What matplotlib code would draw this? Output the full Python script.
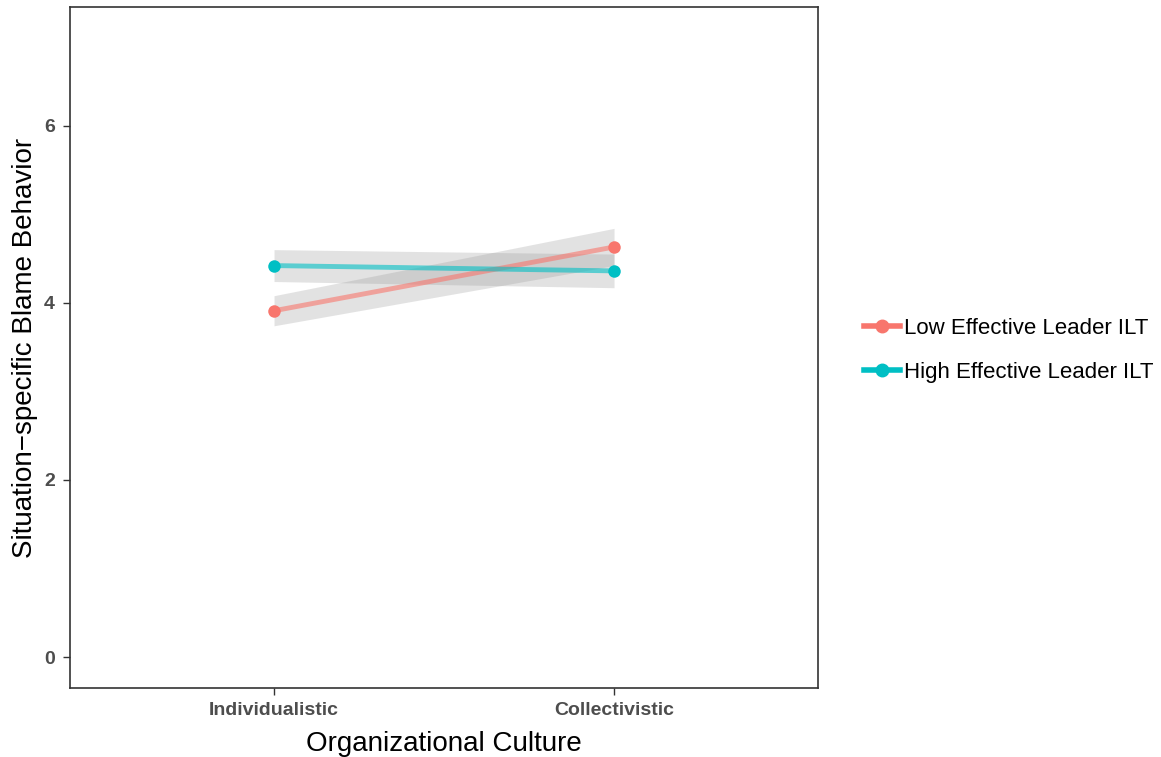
import numpy as np
import matplotlib.pyplot as plt
from matplotlib.lines import Line2D

plt.rcParams['font.family'] = ['Liberation Sans', 'DejaVu Sans']

cultures = ["Individualistic", "Collectivistic"]
groups = ["Low Effective Leader ILT", "High Effective Leader ILT"]
means = {
    "Low Effective Leader ILT": [3.91, 4.63],
    "High Effective Leader ILT": [4.42, 4.36],
}
ci_low = {
    "Low Effective Leader ILT": [3.74, 4.42],
    "High Effective Leader ILT": [4.24, 4.17],
}
ci_high = {
    "Low Effective Leader ILT": [4.08, 4.84],
    "High Effective Leader ILT": [4.60, 4.55],
}
colors = {"Low Effective Leader ILT": "#F8766D", "High Effective Leader ILT": "#00BFC4"}

fig = plt.figure(figsize=(11.61, 7.57), dpi=100)
ax = fig.add_axes([0.0603, 0.0911, 0.6443, 0.8997])

x = np.array([1, 2])
for g in groups:
    ax.fill_between(x, ci_low[g], ci_high[g], color="#999999", alpha=0.28, lw=0)
for g in groups:
    ax.plot(x, means[g], color=colors[g], lw=3.5, alpha=0.6, solid_capstyle="butt")
    ax.plot(x, means[g], "o", color=colors[g], ms=9, mec="none")

ax.set_xlim(0.4, 2.6)
ax.set_ylim(-0.35, 7.34)
ax.set_xticks(x)
ax.set_xticklabels(cultures)
ax.set_yticks([0, 2, 4, 6])
ax.tick_params(colors="#333333", labelcolor="#4d4d4d", labelsize=14, length=5, width=1)
ax.tick_params(axis="x", pad=5)
ax.tick_params(axis="y", pad=6)
for lab in ax.get_xticklabels() + ax.get_yticklabels():
    lab.set_fontweight("bold")
for s in ax.spines.values():
    s.set_color("#333333")
    s.set_linewidth(1.2)
ax.set_xlabel("Organizational Culture", fontsize=20, color="black", labelpad=9)
ax.set_ylabel("Situation\u2212specific Blame Behavior", fontsize=20, color="black", labelpad=4)

handles = [Line2D([0], [0], color=colors[g], lw=4, marker="o", ms=9) for g in groups]
fig.legend(handles, groups, loc="center left", bbox_to_anchor=(0.727, 0.537),
           frameon=False, fontsize=16, handlelength=1.6, handletextpad=0.2,
           labelspacing=1.05)

fig.savefig("out.png", dpi=100)
